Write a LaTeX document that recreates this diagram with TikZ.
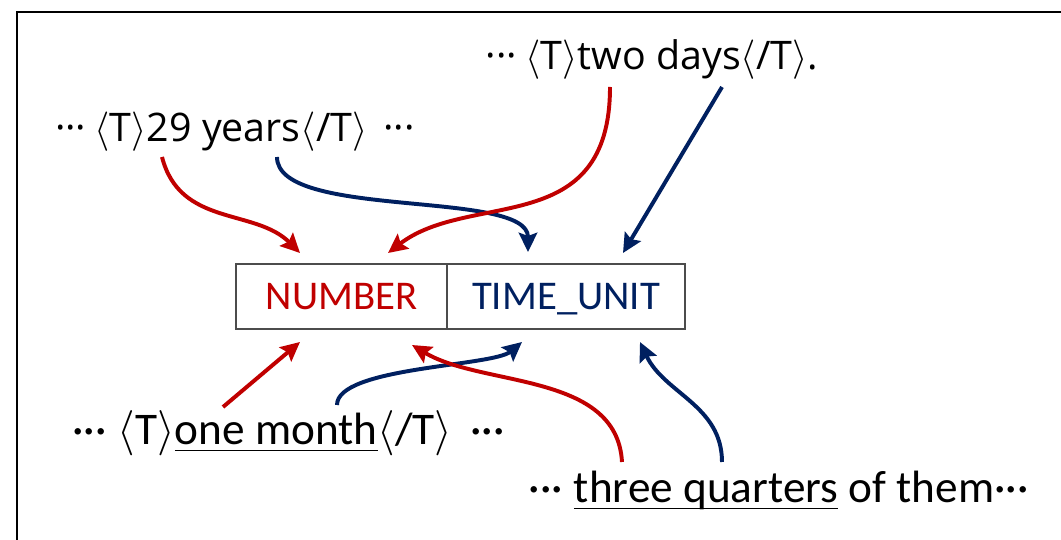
\documentclass[tikz,border=0pt]{standalone}
\usepackage{fix-cm}
\usepackage{fontspec}
\usepackage{amsmath}
\usetikzlibrary{arrows.meta,positioning}
\newfontfamily\segfont{Open Sans}
\newfontfamily\calfont{Carlito}
\definecolor{tagred}{HTML}{C00000}
\definecolor{tagblue}{HTML}{002060}
\newcommand{\mdots}{\makebox[0.6em][s]{·\hfill·\hfill·}}
\newcommand{\dgap}{\hspace{0.4em}}
\newcommand{\tago}{$\langle$T$\rangle$}
\newcommand{\tagc}{$\langle$/T$\rangle$}
\newcommand{\undl}[1]{\setbox0\hbox{#1}\rlap{\rule[-4.5pt]{\wd0}{0.7pt}}\box0\relax}

\begin{document}
\begin{tikzpicture}[
    x=0.025cm, y=0.025cm,
    cell/.style={draw=black!70, line width=1pt, minimum height=1.625cm, inner sep=0pt, outer sep=0pt,
                 text depth=0pt, font=\calfont\fontsize{29}{33}\selectfont},
    sent/.style={anchor=base, inner sep=0pt},
    toptext/.style={sent, font=\segfont\fontsize{28}{32}\selectfont},
    bottext/.style={sent, font=\calfont\fontsize{32.2}{36}\selectfont},
    arrow/.style={-{Stealth[length=0.48cm, width=0.46cm, inset=0.08cm]}, line width=2.8pt}
]
    \useasboundingbox (0,0) rectangle (1061,540);
    \draw[line width=1.6pt] (17,0) -- (17,528) -- (1061,528);

    \node[cell, text=tagred, minimum width=5.275cm] (num) at (341.5,243.5) {NUMBER};
    \node[cell, text=tagblue, minimum width=5.95cm, right=0pt of num] (unit) {TIME\_UNIT};

    \node[toptext] (years) at (231,398) {\mdots\dgap\tago29 years\tagc\dgap\mdots};
    \node[toptext] (days) at (652,470) {\mdots\dgap\tago two days\tagc.};
    \node[bottext] (month) at (285,95) {\mdots\dgap\tago\undl{one month}\tagc\dgap\mdots};
    \node[bottext] (quart) at (775,37) {\mdots\dgap\undl{three quarters} of them\mdots};

    \coordinate (y1) at (162,383);
    \coordinate (y2) at (277,383);
    \coordinate (d1) at (610,453);
    \coordinate (d2) at (722,453);
    \coordinate (m1) at (223,133);
    \coordinate (m2) at (337,135);
    \coordinate (q1) at (622,78);
    \coordinate (q2) at (722,78);

    \coordinate (n1) at (300,287);
    \coordinate (n2) at (388,287);
    \coordinate (n3) at (300,198);
    \coordinate (n4) at (412,195);
    \coordinate (u1) at (528,288);
    \coordinate (u2) at (623,287);
    \coordinate (u3) at (522,198);
    \coordinate (u4) at (640,198);

    \draw[arrow, tagred] (y1) .. controls +(18,-70) and +(-45,45) .. (n1);
    \draw[arrow, tagblue] (y2) to[out=-90, in=90, looseness=0.6] (u1);
    \draw[arrow, tagred] (d1) .. controls +(0,-153) and +(82,63) .. (n2);
    \draw[arrow, tagblue] (d2) -- (u2);

    \draw[arrow, tagblue] (m2) to[out=90, in=220, looseness=0.5] (u3);
    \draw[arrow, tagred] (m1) -- (n3);
    \draw[arrow, tagred] (q1) .. controls +(-5,90) and +(70,-42) .. (n4);
    \draw[arrow, tagblue] (q2) to[out=90, in=-65] (u4);

\end{tikzpicture}
\end{document}
